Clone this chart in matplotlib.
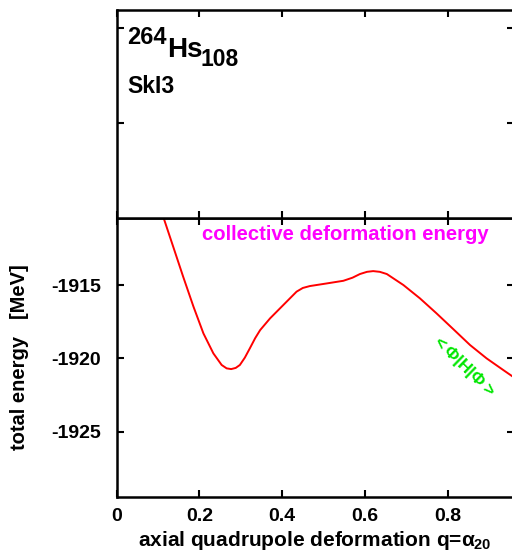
import matplotlib
matplotlib.use("Agg")
import matplotlib.pyplot as plt

plt.rcParams['font.family'] = ['Liberation Sans', 'DejaVu Sans']
plt.rcParams['font.weight'] = 'bold'
plt.rcParams['mathtext.fontset'] = 'custom'
plt.rcParams['mathtext.rm'] = 'Liberation Sans:bold'
plt.rcParams['mathtext.bf'] = 'Liberation Sans:bold'
plt.rcParams['mathtext.it'] = 'Liberation Sans:bold'

# data
q = [0.100, 0.1147, 0.137, 0.161, 0.186, 0.210, 0.234, 0.254, 0.266, 0.277,
     0.288, 0.298, 0.310, 0.322, 0.335, 0.347, 0.371, 0.403, 0.435, 0.450,
     0.467, 0.508, 0.548, 0.570, 0.588, 0.605, 0.620, 0.636, 0.653, 0.693,
     0.733, 0.773, 0.814, 0.854, 0.894, 0.934, 0.955, 0.970]
energy = [-1909.4, -1910.5, -1912.39, -1914.43, -1916.48, -1918.30, -1919.66,
          -1920.45, -1920.68, -1920.73, -1920.65, -1920.45, -1919.95, -1919.32,
          -1918.62, -1918.07, -1917.27, -1916.36, -1915.45, -1915.2,
          -1915.07, -1914.89, -1914.71, -1914.5, -1914.25, -1914.1, -1914.05,
          -1914.1, -1914.25, -1915.0, -1915.91, -1916.93, -1918.02, -1919.09,
          -1920.0, -1920.79, -1921.2, -1921.5]

xticks = [0, 0.2, 0.4, 0.6, 0.8]
xticklabels = ['0', '0.2', '0.4', '0.6', '0.8']
yticks = [-1925, -1920, -1915]
yticklabels = ['-1925', '-1920', '-1915']

W, H = 512, 556
fig = plt.figure(figsize=(W / 100, H / 100), dpi=100)

def fx(x):
    return x / W

def fy(y):
    return 1 - y / H

left = 116.5
right = 116.5 + 0.96 * 414
ax = fig.add_axes([fx(left), fy(497), fx(right - left), fy(218) - fy(497)])
axt = fig.add_axes([fx(left), fy(218), fx(right - left), fy(10) - fy(218)])

for a in (ax, axt):
    for s in a.spines.values():
        s.set_linewidth(1.8)
    a.tick_params(direction='in', length=5, width=1.5, top=True, right=True,
                  labelsize=14)
    a.set_xlim(0, 0.96)
    a.set_xticks(xticks)

ax.plot(q, energy, color='#ff0000', lw=1.4, clip_on=True)
ax.set_ylim(-1929.45, -1910.43)
ax.set_yticks(yticks)
ax.set_yticklabels(yticklabels, fontweight='bold')
ax.set_xticklabels(xticklabels, fontweight='bold')
ax.tick_params(axis='y', pad=11)
ax.tick_params(axis='x', pad=8)
ax.set_xlabel(r'axial quadrupole deformation q=$\alpha_{20}$', fontsize=15,
              fontweight='bold', labelpad=3)
ax.set_ylabel('total energy   [MeV]', fontsize=14.5, fontweight='bold',
              labelpad=16)

ax.text(0.5755, 0.94, 'collective deformation energy',
        transform=ax.transAxes, color='#ff00ff', fontsize=14.6,
        fontweight='bold', ha='center', va='center')
ax.text(0.838, -1920.5, r'$<\Phi|\mathbf{H}|\Phi>$', color='#00e600',
        fontsize=12.5, rotation=-44, ha='center', va='center',
        rotation_mode='anchor')

axt.set_ylim(0, 1)
axt.set_yticks([(218 - 123) / 208, (218 - 28) / 208])
axt.tick_params(labelleft=False, labelbottom=False)

fig.text(fx(127), fy(44), '264', fontsize=17, fontweight='bold', va='baseline')
fig.text(fx(167), fy(57), 'Hs', fontsize=20, fontweight='bold', va='baseline')
fig.text(fx(201), fy(66), '108', fontsize=16.5, fontweight='bold', va='baseline')
fig.text(fx(127), fy(93), 'SkI3', fontsize=16.5, fontweight='bold', va='baseline')

fig.savefig('out.png', dpi=100)
